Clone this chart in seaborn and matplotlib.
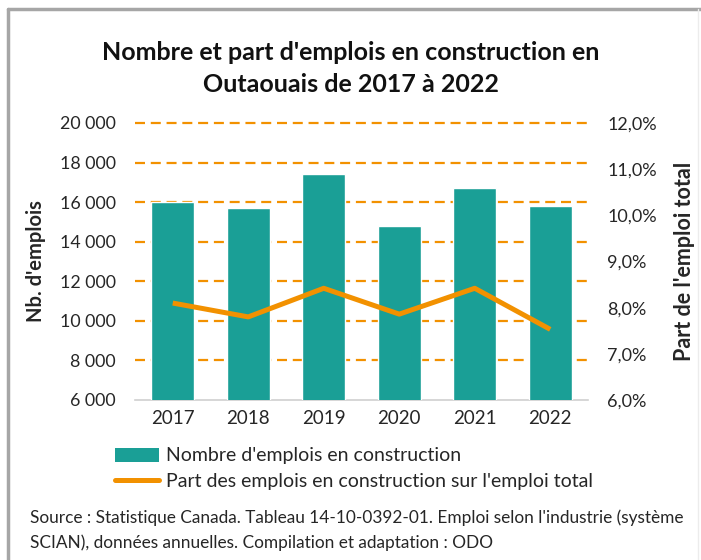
import pandas as pd
import seaborn as sns
import matplotlib.pyplot as plt
from matplotlib.lines import Line2D
from matplotlib.patches import Patch
from matplotlib.ticker import FuncFormatter

years = ["2017", "2018", "2019", "2020", "2021", "2022"]
emplois = [16000, 15700, 17400, 14800, 16700, 15800]
part = [8.1, 7.8, 8.42, 7.86, 8.42, 7.53]

TEAL = "#1a9f96"
ORANGE = "#f29100"
TXT = "#262626"

sns.set_theme(style="white")
plt.rcParams["font.family"] = ["Lato", "DejaVu Sans"]

df = pd.DataFrame({"Année": years, "Emplois": emplois, "Part": part})

fig = plt.figure(figsize=(7.01, 5.6), dpi=100)
ax = fig.add_axes([135 / 701, 1 - 400 / 560, 453 / 701, 277 / 560])

sns.barplot(data=df, x="Année", y="Emplois", color=TEAL, width=0.57,
            saturation=1, ax=ax, zorder=3)
ax.set_ylim(6000, 20000)
ax.set_yticks(range(6000, 20001, 2000))
ax.yaxis.set_major_formatter(FuncFormatter(lambda v, p: f"{int(v):,}".replace(",", " ")))
for y in range(8000, 20001, 2000):
    ax.axhline(y, color=ORANGE, lw=1.6, ls=(0, (4.5, 2.6)), zorder=1, clip_on=False)
ax.set_xlim(-0.5, 5.5)
for s in ["top", "right", "left"]:
    ax.spines[s].set_visible(False)
ax.spines["bottom"].set_color("#d0d0d0")
ax.spines["bottom"].set_linewidth(1.2)
ax.tick_params(axis="y", length=0, labelsize=12.8, colors=TXT, pad=14)
ax.tick_params(axis="x", length=0, labelsize=13.5, colors=TXT, pad=7)
ax.set_xlabel("")
ax.set_ylabel("Nb. d'emplois", fontsize=14.5, fontweight="bold", color=TXT, labelpad=10)

ax2 = ax.twinx()
sns.lineplot(x=list(range(len(years))), y=part, color=ORANGE, lw=3.6, ax=ax2,
             zorder=4, solid_capstyle="butt")
ax2.set_ylim(6, 12)
ax2.set_yticks(range(6, 13))
ax2.yaxis.set_major_formatter(FuncFormatter(lambda v, p: f"{v:.1f}%".replace(".", ",")))
for s in ["top", "right", "left", "bottom"]:
    ax2.spines[s].set_visible(False)
ax2.tick_params(axis="y", length=0, labelsize=13, colors=TXT, pad=14)
ax2.set_ylabel("Part de l'emploi total", fontsize=15.5, fontweight="bold", color=TXT,
               labelpad=12)

fig.text(0.5, 1 - 52 / 560, "Nombre et part d'emplois en construction en",
         ha="center", va="center", fontsize=18, fontweight="bold", color="#111111")
fig.text(0.5, 1 - 84 / 560, "Outaouais de 2017 à 2022",
         ha="center", va="center", fontsize=18, fontweight="bold", color="#111111")

handles = [Patch(facecolor=TEAL, edgecolor="none"),
           Line2D([0], [0], color=ORANGE, lw=3.6)]
labels = ["Nombre d'emplois en construction",
          "Part des emplois en construction sur l'emploi total"]
fig.legend(handles, labels, loc="upper left", bbox_to_anchor=(97 / 701, 1 - 430 / 560),
           frameon=False, fontsize=14, handlelength=2.3, handleheight=0.7,
           handletextpad=0.35, labelspacing=0.45, labelcolor=TXT)

fig.text(30 / 701, 1 - 518 / 560,
         "Source : Statistique Canada. Tableau 14-10-0392-01. Emploi selon l'industrie (système",
         ha="left", va="center", fontsize=12.4, color=TXT)
fig.text(30 / 701, 1 - 543 / 560,
         "SCIAN), données annuelles. Compilation et adaptation : ODO",
         ha="left", va="center", fontsize=12.4, color=TXT)

# cadre
fig.add_artist(Line2D([8 / 701, 1], [1 - 9 / 560] * 2, color="#a6a6a6", lw=2.5))
fig.add_artist(Line2D([8 / 701] * 2, [0, 1 - 9 / 560], color="#a6a6a6", lw=2.5))
fig.add_artist(Line2D([698 / 701] * 2, [0, 1 - 9 / 560], color="#ececec", lw=1))

fig.savefig("out.png", dpi=100)
